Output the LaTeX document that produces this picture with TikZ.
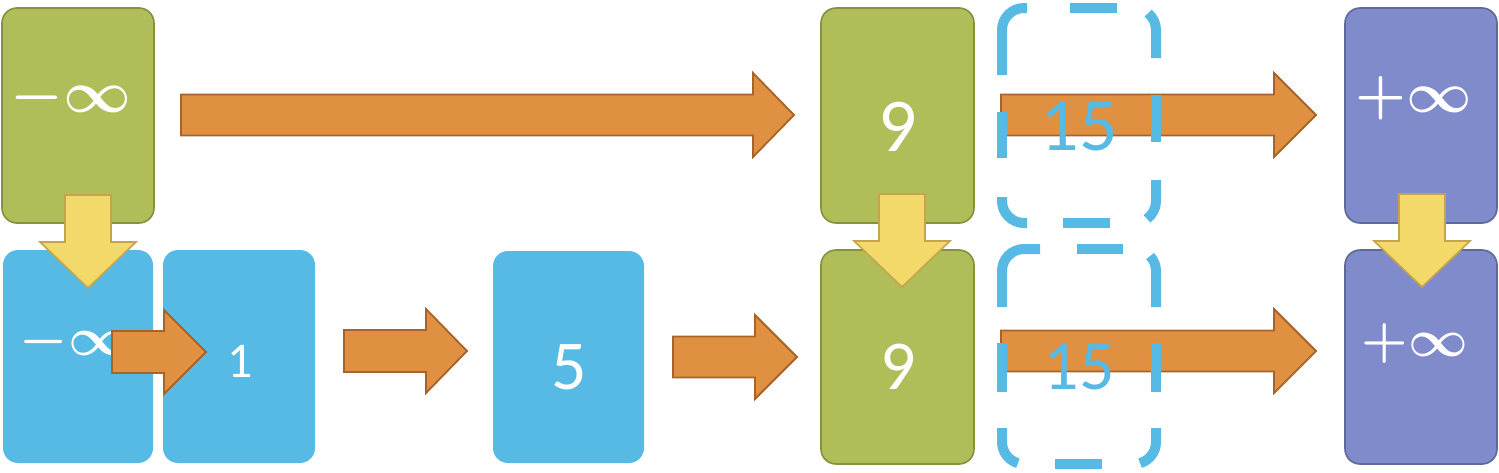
\documentclass[tikz,border=0pt]{standalone}
\usepackage{fontspec}
\usepackage{graphicx}
\setmainfont{Carlito}
\definecolor{gfill}{RGB}{176,189,89}
\definecolor{gline}{RGB}{134,145,60}
\definecolor{bfill}{RGB}{87,186,228}
\definecolor{pfill}{RGB}{127,139,203}
\definecolor{pline}{RGB}{94,104,153}
\definecolor{ofill}{RGB}{223,144,64}
\definecolor{oline}{RGB}{168,100,40}
\definecolor{yfill}{RGB}{243,216,106}
\definecolor{yline}{RGB}{196,165,75}
\tikzset{
  cell/.style={rounded corners=15pt, inner sep=0pt, outer sep=0pt},
  greencell/.style={cell, draw=gline, fill=gfill, line width=1.6pt},
  bluecell/.style={cell, fill=bfill},
  purplecell/.style={cell, draw=pline, fill=pfill, line width=1.6pt},
  orangearrow/.style={draw=oline, fill=ofill, line width=1.8pt, line join=miter},
  yellowarrow/.style={draw=yline, fill=yfill, line width=1.6pt, line join=miter},
  dashpiece/.style={draw=bfill, line width=10pt, line cap=butt},
  wtext/.style={text=white, inner sep=0pt},
  btext/.style={text=bfill, inner sep=0pt}
}
% tail x, head-base x, tip x, centre y, half shaft, half head
\newcommand{\blockright}[6]{%
  \draw[orangearrow] ({#1},{#4-#5}) -- ({#2},{#4-#5}) -- ({#2},{#4-#6}) -- ({#3},{#4})
    -- ({#2},{#4+#6}) -- ({#2},{#4+#5}) -- ({#1},{#4+#5}) -- cycle;}
% centre x, top y, head-base y, tip y, half shaft, half head
\newcommand{\blockdown}[6]{%
  \draw[yellowarrow] ({#1-#5},{#2}) -- ({#1+#5},{#2}) -- ({#1+#5},{#3}) -- ({#1+#6},{#3})
    -- ({#1},{#4}) -- ({#1-#6},{#3}) -- ({#1-#5},{#3}) -- cycle;}
\begin{document}
\begin{tikzpicture}[x=1pt,y=-1pt]
\useasboundingbox (0,0) rectangle (1499,472);
% boxes
\node[greencell, minimum width=152pt, minimum height=215pt] (g1) at (78,115.5) {};
\node[bluecell, minimum width=150pt, minimum height=213pt] (b1) at (78,356.5) {};
\node[bluecell, minimum width=152pt, minimum height=213pt] (b2) at (239,356.5) {};
\node[bluecell, minimum width=151pt, minimum height=212pt] (b3) at (568.5,357) {};
\node[greencell, minimum width=153pt, minimum height=215pt] (g2) at (897.5,115.5) {};
\node[greencell, minimum width=153pt, minimum height=214pt] (g3) at (897.5,357) {};
\node[purplecell, minimum width=152pt, minimum height=215pt] (p1) at (1421,115.5) {};
\node[purplecell, minimum width=152pt, minimum height=214pt] (p2) at (1421,357) {};
% texts
\node[wtext] (tg1) at (71,98) {\scalebox{5.9}{\boldmath$-\infty$}};
\node[wtext] (tb1) at (75,342) {\scalebox{5.4}{\boldmath$-\infty$}};
\node[wtext, font=\fontsize{50}{50}\selectfont] (tb2) at (240,361) {1};
\node[wtext, font=\fontsize{70}{70}\selectfont] (tb3) at (569,367) {5};
\node[wtext, font=\fontsize{76}{76}\selectfont] (tg2) at (898,127) {9};
\node[wtext, font=\fontsize{70}{70}\selectfont] (tg3) at (898,367) {9};
\node[wtext] (tp1) at (1414,98) {\scalebox{5.7}{\boldmath$+\infty$}};
\node[wtext] (tp2) at (1415,343) {\scalebox{5.2}{\boldmath$+\infty$}};
% orange arrows
\blockright{181}{753}{794}{115}{20.5}{42}
\blockright{1001}{1274}{1316}{115}{20.5}{42}
\blockright{112}{164}{206}{352}{21}{42}
\blockright{344}{426}{467}{351}{21}{42}
\blockright{673}{755}{797}{357}{20.5}{42}
\blockright{1001}{1274}{1316}{351}{20.5}{42}
% yellow arrows
\blockdown{88}{195}{242}{288}{23}{48}
\blockdown{902}{194}{241}{287}{23}{48}
\blockdown{1422}{194}{241}{287}{23}{48}
% dashed box, top
\draw[dashpiece, rounded corners=22pt] (1002,75) -- (1002,8) -- (1027,8);
\draw[dashpiece] (1070,8) -- (1117,8);
\draw[dashpiece] (1134,30) ++(-50:22) arc[start angle=-50, end angle=0, radius=22] -- (1156,58);
\draw[dashpiece] (1156,95) -- (1156,142);
\draw[dashpiece] (1156,180) -- (1156,201) arc[start angle=0, end angle=54, radius=22];
\draw[dashpiece] (1063,223) -- (1110,223);
\draw[dashpiece, rounded corners=22pt] (1027,223) -- (1002,223) -- (1002,197);
\draw[dashpiece] (1002,112) -- (1002,158);
% dashed box, bottom
\draw[dashpiece, rounded corners=22pt] (1002,307) -- (1002,249) -- (1040,249);
\draw[dashpiece] (1077,249) -- (1123,249);
\draw[dashpiece] (1134,271) ++(-43:22) arc[start angle=-43, end angle=0, radius=22] -- (1156,307);
\draw[dashpiece] (1156,343) -- (1156,392);
\draw[dashpiece] (1156,428) -- (1156,442) arc[start angle=0, end angle=74, radius=22];
\draw[dashpiece] (1055,464) -- (1102,464);
\draw[dashpiece] (1002,428) -- (1002,442) arc[start angle=180, end angle=106, radius=22];
\draw[dashpiece] (1002,343) -- (1002,392);
% blue texts
\node[btext, font=\fontsize{76}{76}\selectfont] (t15a) at (1079,126) {15};
\node[btext, font=\fontsize{70}{70}\selectfont] (t15b) at (1079,367) {15};
\end{tikzpicture}
\end{document}
